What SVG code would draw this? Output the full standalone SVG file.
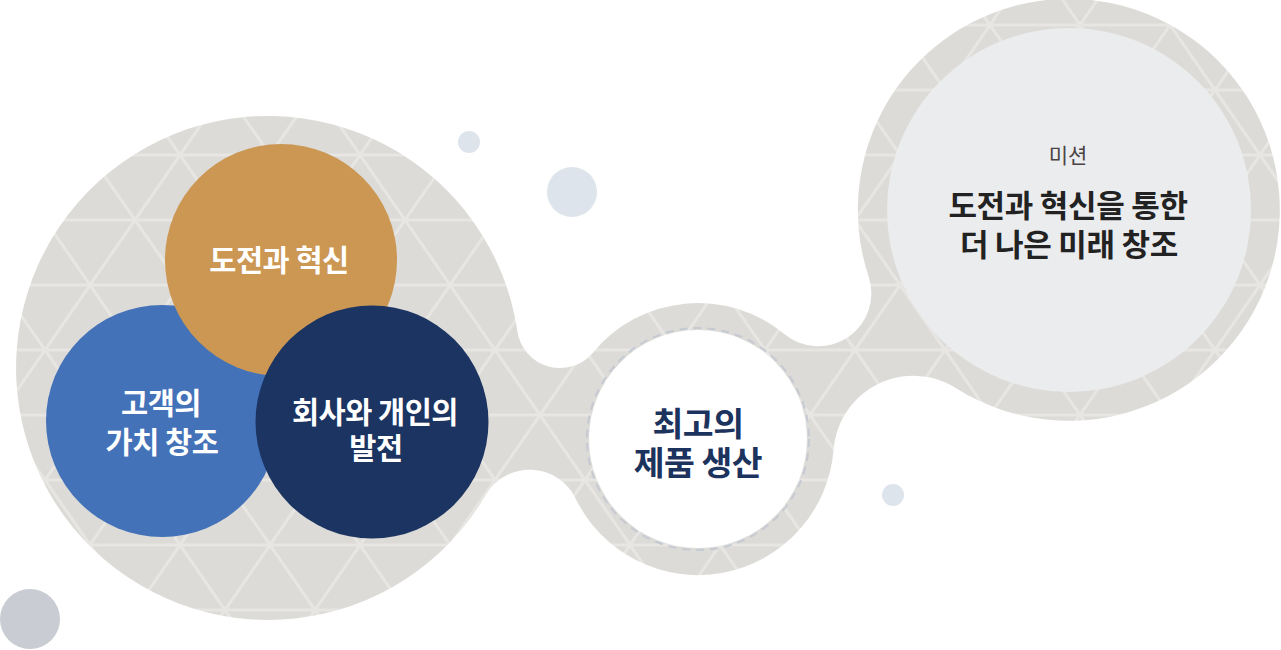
<svg xmlns="http://www.w3.org/2000/svg" width="1281" height="650" viewBox="0 0 1281 650">
<style>
.t{font-family:"Noto Sans CJK KR","Noto Sans",sans-serif;text-anchor:middle;font-weight:700}
.w{fill:#ffffff;font-size:29.5px;letter-spacing:-0.5px}
.n{fill:#1c335e;font-size:33.5px;letter-spacing:-0.5px}
.d{fill:#222222;font-size:31px;letter-spacing:-0.3px}
.s{fill:#4a4343;font-size:21px;font-weight:400}
.dot{fill:#dee4ec}
</style>
<defs>
<pattern id="tri" patternUnits="userSpaceOnUse" x="270" y="25" width="90" height="130">
<rect width="90" height="130" fill="#dcdbd7"/>
<path d="M-10 0H100M-10 65H100M-10 130H100M-45 -65L135 195M135 -65L-45 195M45 -65L135 65M-45 65L45 195M45 -65L-45 65M135 65L45 195" stroke="#e7e6e3" stroke-width="3" fill="none"/>
</pattern>
</defs>
<rect width="1281" height="650" fill="#ffffff"/>
<g id="background">
<path d="M485.7 495.0A252 252 0 1 1 517.4 331.3A43 43 0 0 0 593.1 352.4A136 136 0 0 1 784.6 334.2A53 53 0 0 0 868.7 276.7A211 211 0 1 1 956.1 388.2A80 80 0 0 0 833.6 449.6A136 136 0 0 1 575.6 498.4A51 51 0 0 0 485.7 495.0Z" fill="url(#tri)"/>
<circle class="dot" cx="469" cy="142" r="11"/>
<circle class="dot" cx="572" cy="192" r="25"/>
<circle class="dot" cx="893" cy="495" r="11"/>
<circle cx="30" cy="619" r="30" fill="#c9ccd2"/>
</g>
<g id="connectors"/>
<g id="node-customer">
<circle cx="162" cy="421" r="116" fill="#4472b8"/>
<text class="t w"><tspan x="161" y="414">고객의</tspan><tspan x="162" y="453">가치 창조</tspan></text>
</g>
<g id="node-challenge">
<circle cx="281" cy="260" r="116" fill="#cb9753"/>
<text class="t w" x="279" y="271">도전과 혁신</text>
</g>
<g id="node-company">
<circle cx="372" cy="422" r="116.5" fill="#1b3461"/>
<text class="t w"><tspan x="375" y="423">회사와 개인의</tspan><tspan x="376" y="459">발전</tspan></text>
</g>
<g id="node-product">
<circle cx="698" cy="439" r="109" fill="#ffffff"/>
<circle cx="698" cy="439" r="111" fill="none" stroke="#c5cad3" stroke-width="2" stroke-dasharray="8 6"/>
<text class="t n"><tspan x="698" y="436">최고의</tspan><tspan x="698" y="475">제품 생산</tspan></text>
</g>
<g id="node-mission">
<circle cx="1069" cy="210" r="182" fill="#ebecee"/>
<text class="t s" x="1068" y="163">미션</text>
<text class="t d"><tspan x="1068" y="217">도전과 혁신을 통한</tspan><tspan x="1069" y="256">더 나은 미래 창조</tspan></text>
</g>
</svg>
